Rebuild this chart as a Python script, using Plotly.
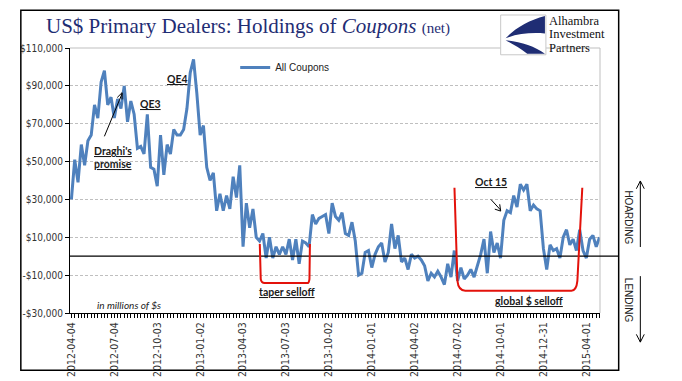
import pandas as pd
import plotly.graph_objects as go

# ---------------- data ----------------
start_date = "2012-04-04"
# weekly net holdings of coupons, thousands of $ millions
coupons_k = [
    30, 51, 39, 59, 48, 61, 64, 80, 73, 92,
    98, 80, 84, 73, 83, 78, 90, 71, 82, 75,
    57, 58, 54, 75, 47, 46, 37, 64, 43, 59,
    54, 67, 64, 64, 67, 78, 97, 104, 86, 64,
    69, 47, 40, 44, 24, 33, 24, 32, 25, 42,
    31, 48, 5, 28, 15, 25, 10, 8, 12, -1,
    10, -1, 5, 1, 5, 1, 9, -2, 9, -4,
    8, 7, 5, 22, 17, 20, 21, 22, 12, 28,
    21, 19, 23, 12, 11, 18, 8, -10, -9, 2,
    3, -6, 1, 5, 7, -3, 2, 17, 4, 11,
    -3, -1, -7, 1, -1, 0, -2, -5, -13, -9,
    -11, -8, -11, -15, -4, -11, 3, -13, -6, -12,
    -10, -7, -11, -5, 1, 9, -9, 13, 2, 7,
    -1, 19, 24, 23, 32, 26, 38, 35, 38, 24,
    27, 25, 24, 4, -7, 6, 3, 4, -1, 10,
    14, 6, 9, 3, 14, 3, -1, 9, 11, 5,
    10,
]
coupons = [v * 1000 for v in coupons_k]
dates = pd.date_range(start_date, periods=len(coupons), freq="7D")

x_tick_labels = ["2012-04-04", "2012-07-04", "2012-10-03", "2013-01-02",
                 "2013-04-03", "2013-07-03", "2013-10-02", "2014-01-01",
                 "2014-04-02", "2014-07-02", "2014-10-01", "2014-12-31",
                 "2015-04-01"]
y_tick_vals = [-30000, -10000, 10000, 30000, 50000, 70000, 90000, 110000]
y_tick_text = ["-$30,000", "-$10,000", "$10,000", "$30,000", "$50,000",
               "$70,000", "$90,000", "$110,000"]

# ---------------- layout geometry ----------------
W, H = 682, 381
L, R, T, B = 53, 592, 40, 313   # plot area in pixels


def px(x):
    return (x - L) / (R - L)


def py(y):
    return (B - y) / (B - T)


BLUE = "#4F81BD"
NAVY = "#1F2D74"
TXT = "#1a1a1a"
NARROW = "Liberation Sans Narrow, DejaVu Sans Condensed, Arial Narrow, sans-serif"
ANNF = "Lato, Carlito, Calibri, sans-serif"

fig = go.Figure()
fig.add_trace(go.Scatter(
    x=dates, y=coupons, mode="lines", name="All Coupons",
    line=dict(color=BLUE, width=3),
))

shapes = []
# plot top and right border (gray)
shapes.append(dict(type="line", xref="paper", yref="paper", x0=0, x1=1, y0=1, y1=1,
                   line=dict(color="#BFBFBF", width=1)))
shapes.append(dict(type="line", xref="paper", yref="paper", x0=1, x1=1, y0=0, y1=1,
                   line=dict(color="#BFBFBF", width=1)))
# zero line extending to frame
shapes.append(dict(type="line", xref="paper", yref="y", x0=0, x1=px(611), y0=0, y1=0,
                   line=dict(color="black", width=1.2)))
# outer frame
shapes.append(dict(type="rect", xref="paper", yref="paper",
                   x0=px(3), x1=px(611), y0=py(372), y1=py(1),
                   line=dict(color="black", width=1.5)))


def path_px(points, close=False):
    s = "M " + " L ".join(f"{px(a):.4f},{py(b):.4f}" for a, b in points)
    return s + (" Z" if close else "")


# red brackets
RED = "#E3120B"
shapes.append(dict(type="path", xref="paper", yref="paper",
                   path=(f"M {px(246):.4f},{py(242):.4f} L {px(247):.4f},{py(278):.4f} "
                         f"Q {px(247.5):.4f},{py(282):.4f} {px(251):.4f},{py(282):.4f} "
                         f"L {px(295):.4f},{py(282):.4f} Q {px(296):.4f},{py(282):.4f} "
                         f"{px(296.5):.4f},{py(278):.4f} L {px(297):.4f},{py(242):.4f}"),
                   line=dict(color=RED, width=2)))
shapes.append(dict(type="path", xref="paper", yref="paper",
                   path=(f"M {px(444):.4f},{py(184):.4f} L {px(447):.4f},{py(280):.4f} "
                         f"Q {px(448):.4f},{py(290):.4f} {px(455):.4f},{py(290):.4f} "
                         f"L {px(563):.4f},{py(290):.4f} Q {px(568):.4f},{py(290):.4f} "
                         f"{px(569):.4f},{py(280):.4f} L {px(574):.4f},{py(184):.4f}"),
                   line=dict(color=RED, width=2)))

# right-side arrows (open heads)
for pts in ([(633, 245), (633, 177)], [(629, 185), (633, 177), (637, 185)],
            [(633, 275), (633, 343)], [(629, 335), (633, 343), (637, 335)]):
    shapes.append(dict(type="path", xref="paper", yref="paper", path=path_px(pts),
                       line=dict(color="black", width=1)))

# Draghi arrow line + head
shapes.append(dict(type="path", xref="paper", yref="paper",
                   path=path_px([(88, 131), (106, 87)]), line=dict(color="black", width=1)))
shapes.append(dict(type="path", xref="paper", yref="paper",
                   path=path_px([(101, 91), (106, 86), (106, 93)]), line=dict(color="black", width=1)))
# Oct 15 arrow
shapes.append(dict(type="path", xref="paper", yref="paper",
                   path=path_px([(481, 196), (491, 207)]), line=dict(color="black", width=1)))
shapes.append(dict(type="path", xref="paper", yref="paper",
                   path=path_px([(485, 206), (491, 208), (490, 201)]), line=dict(color="black", width=1)))

# logo icon
shapes.append(dict(type="rect", xref="paper", yref="paper",
                   x0=px(491), x1=px(537), y0=py(47), y1=py(6),
                   line=dict(color="#C8C8C8", width=1), fillcolor="white"))
shapes.append(dict(type="path", xref="paper", yref="paper",
                   path=(f"M {px(536):.4f},{py(7):.4f} C {px(520):.4f},{py(11):.4f} "
                         f"{px(505):.4f},{py(20):.4f} {px(496):.4f},{py(30):.4f} "
                         f"C {px(508):.4f},{py(25):.4f} {px(522):.4f},{py(24):.4f} "
                         f"{px(536):.4f},{py(25):.4f} Z"),
                   line=dict(width=0), fillcolor=NAVY))
shapes.append(dict(type="path", xref="paper", yref="paper",
                   path=(f"M {px(496):.4f},{py(32):.4f} C {px(510):.4f},{py(33):.4f} "
                         f"{px(526):.4f},{py(38):.4f} {px(536):.4f},{py(46):.4f} "
                         f"L {px(518):.4f},{py(46):.4f} C {px(511):.4f},{py(40):.4f} "
                         f"{px(503):.4f},{py(36):.4f} {px(496):.4f},{py(32):.4f} Z"),
                   line=dict(width=0), fillcolor=NAVY))

annotations = []


def txt(x, y, text, size=11, family=ANNF, color=TXT, xanchor="center", angle=0):
    annotations.append(dict(xref="paper", yref="paper", x=px(x), y=py(y), text=text,
                            showarrow=False, xanchor=xanchor, yanchor="middle",
                            textangle=angle, borderpad=0,
                            font=dict(size=size, family=family, color=color)))


txt(28, 17, "US$ Primary Dealers: Holdings of <i>Coupons</i> "
    "<span style='font-size:15px'>(net)</span>", size=21,
    family="Liberation Serif, Times New Roman, serif", color=NAVY, xanchor="left")
for i, line in enumerate(["Alhambra", "Investment", "Partners"]):
    txt(539, 12 + i * 14, line, size=12.5, family="Liberation Serif, serif",
        color="#111111", xanchor="left")

txt(162, 72, "<b><u>QE4</u></b>", size=10.5)
txt(135, 98, "<b><u>QE3</u></b>", size=10.5)
txt(97, 146, "<b><u>Draghi's</u></b>", size=10.5)
txt(97, 160, "<b><u>promise</u></b>", size=10.5)
txt(481, 178, "<b><u>Oct 15</u></b>", size=10.5)
txt(274, 291, "<b><u>taper selloff</u></b>", size=10.5)
txt(520, 301, "<b><u>global $ selloff</u></b>", size=10.5)
txt(79, 305, "<i>in millions of $s</i>", size=10, xanchor="left", color="#222222")
txt(621, 214, "HOARDING", size=10, family="Liberation Sans, Arial, sans-serif",
    color="#222222", angle=90)
txt(621, 300, "LENDING", size=10, family="Liberation Sans, Arial, sans-serif",
    color="#222222", angle=90)

x0 = pd.Timestamp(start_date) - pd.Timedelta(days=3)
x1 = dates[-1] + pd.Timedelta(days=1)

fig.update_layout(
    width=W, height=H,
    margin=dict(l=L, r=W - R, t=T, b=H - B),
    paper_bgcolor="white", plot_bgcolor="white",
    showlegend=True,
    legend=dict(x=px(221), y=py(60), xanchor="left", yanchor="middle",
                bgcolor="rgba(0,0,0,0)", font=dict(size=10, family="Liberation Sans, Arial",
                                                   color="#222222")),
    shapes=shapes, annotations=annotations,
    xaxis=dict(
        type="date", range=[x0, x1],
        tickmode="array", tickvals=list(pd.to_datetime(x_tick_labels)), ticktext=x_tick_labels,
        tickangle=-90, ticks="outside", ticklen=4, tickcolor="black",
        minor=dict(ticks="outside", ticklen=4, tickcolor="black",
                   tick0=start_date, dtick=7 * 86400000, showgrid=False),
        showline=True, linecolor="black", linewidth=1, showgrid=False, zeroline=False,
        tickfont=dict(size=10.5, family=NARROW, color="#333333"),
    ),
    yaxis=dict(
        range=[-30000, 110000], tickmode="array", tickvals=y_tick_vals, ticktext=y_tick_text,
        ticks="outside", ticklen=4, tickcolor="black",
        showline=True, linecolor="black", linewidth=1,
        showgrid=True, gridcolor="#BFBFBF", griddash="3px,2px", gridwidth=1,
        zeroline=False, tickfont=dict(size=10, family=NARROW, color="#333333"),
    ),
)

fig.write_html("out.html")
